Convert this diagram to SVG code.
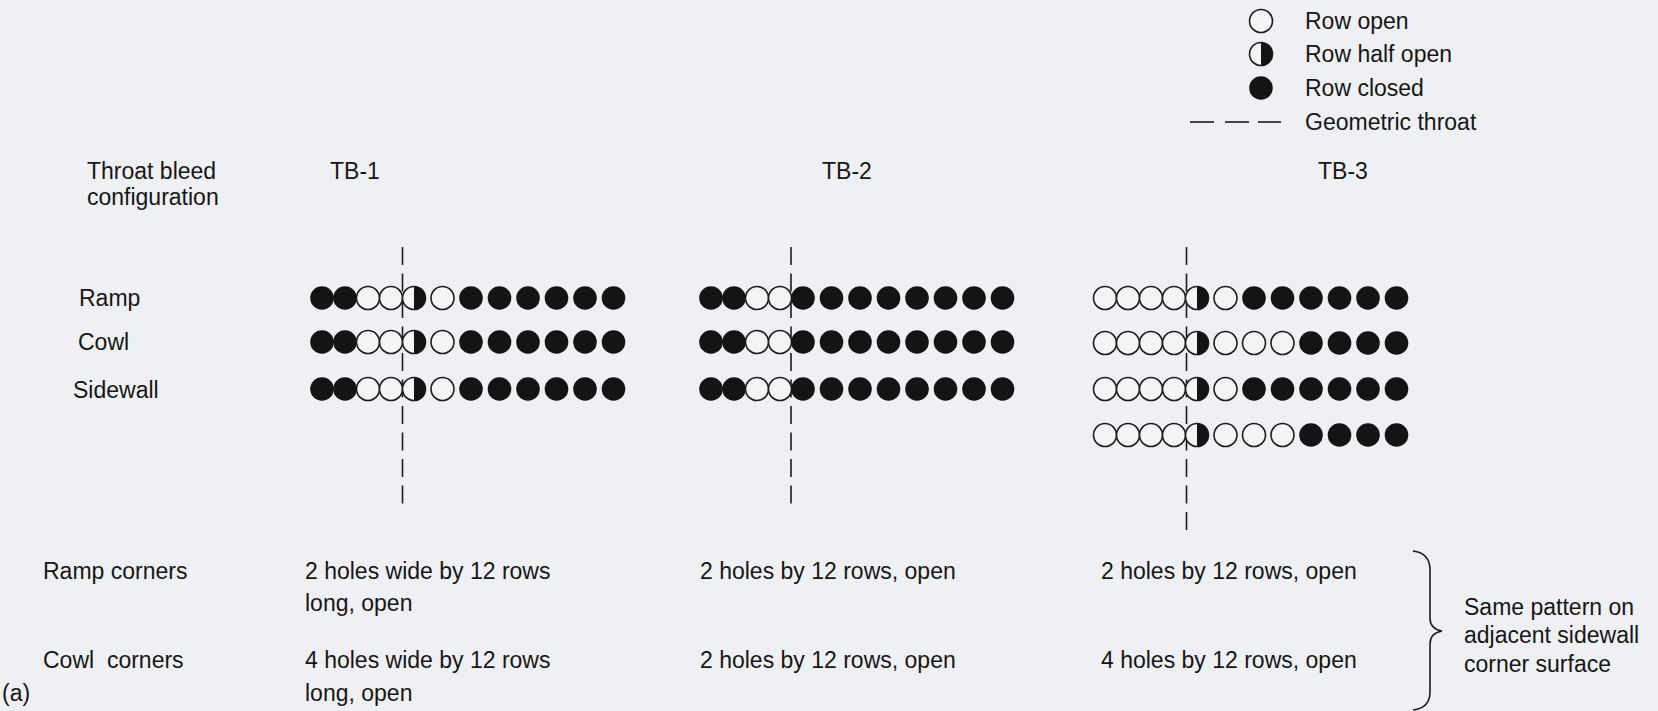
<svg xmlns="http://www.w3.org/2000/svg" xmlns:xlink="http://www.w3.org/1999/xlink" width="1658" height="711" viewBox="0 0 1658 711">
<style>
text { font-family: "Liberation Sans", Arial, Helvetica, sans-serif; font-size: 23px; fill: #161616; }
.o { fill: #f3f4f6; stroke: #1c1c1c; stroke-width: 1.6; }
.c { fill: #141414; }
.throat { stroke: #1c1c1c; stroke-width: 1.6; stroke-dasharray: 18 8.5; fill: none; }
.ln { stroke: #1c1c1c; stroke-width: 1.6; fill: none; }
</style>
<defs>
<circle id="O" r="11.5" class="o"/>
<g id="H"><circle r="11.5" class="o"/><path d="M0,-11.5 A11.5,11.5 0 0 1 0,11.5 Z" class="c"/></g>
<circle id="C" r="11.8" class="c"/>
</defs>
<rect width="1658" height="711" fill="#eff0f3"/>

<g id="legend">
<use href="#O" x="1261" y="21"/>
<use href="#H" x="1261" y="54"/>
<use href="#C" x="1261" y="88"/>
<line class="ln" x1="1190" y1="122" x2="1214" y2="122"/>
<line class="ln" x1="1225" y1="122" x2="1249" y2="122"/>
<line class="ln" x1="1258" y1="122" x2="1281" y2="122"/>
<text x="1305" y="29">Row open</text>
<text x="1305" y="62">Row half open</text>
<text x="1305" y="96">Row closed</text>
<text x="1305" y="130">Geometric throat</text>
</g>

<g id="row-labels">
<text x="87" y="179">Throat bleed</text>
<text x="87" y="205">configuration</text>
<text x="79" y="306">Ramp</text>
<text x="78" y="350">Cowl</text>
<text x="73" y="398">Sidewall</text>
</g>

<g id="headers">
<text x="330" y="179">TB-1</text>
<text x="822" y="179">TB-2</text>
<text x="1318" y="179">TB-3</text>
</g>

<g id="connectors">
<line class="throat" x1="402.5" y1="247" x2="402.5" y2="505"/>
<line class="throat" x1="791" y1="247" x2="791" y2="505"/>
<line class="throat" x1="1186.5" y1="247" x2="1186.5" y2="530"/>
</g>

<g id="tb1">
<g transform="translate(322,298)">
<use href="#C" x="0"/><use href="#C" x="23"/><use href="#O" x="46"/><use href="#O" x="69"/><use href="#H" x="92"/><use href="#O" x="120.5"/><use href="#C" x="149"/><use href="#C" x="177.5"/><use href="#C" x="206"/><use href="#C" x="234.5"/><use href="#C" x="263"/><use href="#C" x="291.5"/>
</g>
<g transform="translate(322,342)">
<use href="#C" x="0"/><use href="#C" x="23"/><use href="#O" x="46"/><use href="#O" x="69"/><use href="#H" x="92"/><use href="#O" x="120.5"/><use href="#C" x="149"/><use href="#C" x="177.5"/><use href="#C" x="206"/><use href="#C" x="234.5"/><use href="#C" x="263"/><use href="#C" x="291.5"/>
</g>
<g transform="translate(322,389)">
<use href="#C" x="0"/><use href="#C" x="23"/><use href="#O" x="46"/><use href="#O" x="69"/><use href="#H" x="92"/><use href="#O" x="120.5"/><use href="#C" x="149"/><use href="#C" x="177.5"/><use href="#C" x="206"/><use href="#C" x="234.5"/><use href="#C" x="263"/><use href="#C" x="291.5"/>
</g>
</g>

<g id="tb2">
<g transform="translate(711,298)">
<use href="#C" x="0"/><use href="#C" x="23"/><use href="#O" x="46"/><use href="#O" x="69"/><use href="#C" x="92"/><use href="#C" x="120.5"/><use href="#C" x="149"/><use href="#C" x="177.5"/><use href="#C" x="206"/><use href="#C" x="234.5"/><use href="#C" x="263"/><use href="#C" x="291.5"/>
</g>
<g transform="translate(711,342)">
<use href="#C" x="0"/><use href="#C" x="23"/><use href="#O" x="46"/><use href="#O" x="69"/><use href="#C" x="92"/><use href="#C" x="120.5"/><use href="#C" x="149"/><use href="#C" x="177.5"/><use href="#C" x="206"/><use href="#C" x="234.5"/><use href="#C" x="263"/><use href="#C" x="291.5"/>
</g>
<g transform="translate(711,389)">
<use href="#C" x="0"/><use href="#C" x="23"/><use href="#O" x="46"/><use href="#O" x="69"/><use href="#C" x="92"/><use href="#C" x="120.5"/><use href="#C" x="149"/><use href="#C" x="177.5"/><use href="#C" x="206"/><use href="#C" x="234.5"/><use href="#C" x="263"/><use href="#C" x="291.5"/>
</g>
</g>

<g id="tb3">
<g transform="translate(1105,298)">
<use href="#O" x="0"/><use href="#O" x="23"/><use href="#O" x="46"/><use href="#O" x="69"/><use href="#H" x="92"/><use href="#O" x="120.5"/><use href="#C" x="149"/><use href="#C" x="177.5"/><use href="#C" x="206"/><use href="#C" x="234.5"/><use href="#C" x="263"/><use href="#C" x="291.5"/>
</g>
<g transform="translate(1105,343)">
<use href="#O" x="0"/><use href="#O" x="23"/><use href="#O" x="46"/><use href="#O" x="69"/><use href="#H" x="92"/><use href="#O" x="120.5"/><use href="#O" x="149"/><use href="#O" x="177.5"/><use href="#C" x="206"/><use href="#C" x="234.5"/><use href="#C" x="263"/><use href="#C" x="291.5"/>
</g>
<g transform="translate(1105,389)">
<use href="#O" x="0"/><use href="#O" x="23"/><use href="#O" x="46"/><use href="#O" x="69"/><use href="#H" x="92"/><use href="#O" x="120.5"/><use href="#C" x="149"/><use href="#C" x="177.5"/><use href="#C" x="206"/><use href="#C" x="234.5"/><use href="#C" x="263"/><use href="#C" x="291.5"/>
</g>
<g transform="translate(1105,435)">
<use href="#O" x="0"/><use href="#O" x="23"/><use href="#O" x="46"/><use href="#O" x="69"/><use href="#H" x="92"/><use href="#O" x="120.5"/><use href="#O" x="149"/><use href="#O" x="177.5"/><use href="#C" x="206"/><use href="#C" x="234.5"/><use href="#C" x="263"/><use href="#C" x="291.5"/>
</g>
</g>

<g id="corners">
<text x="43" y="579">Ramp corners</text>
<text x="43" y="668" xml:space="preserve">Cowl  corners</text>
<text x="2" y="701">(a)</text>
<text x="305" y="579">2 holes wide by 12 rows</text>
<text x="305" y="611">long, open</text>
<text x="305" y="668">4 holes wide by 12 rows</text>
<text x="305" y="701">long, open</text>
<text x="700" y="579">2 holes by 12 rows, open</text>
<text x="700" y="668">2 holes by 12 rows, open</text>
<text x="1101" y="579">2 holes by 12 rows, open</text>
<text x="1101" y="668">4 holes by 12 rows, open</text>
</g>

<g id="note">
<path class="ln" d="M1413,551 Q1430,553 1430,570 L1430,618 Q1430,629 1442,631 Q1430,633 1430,644 L1430,692 Q1430,708 1413,710"/>
<text x="1464" y="615">Same pattern on</text>
<text x="1464" y="643">adjacent sidewall</text>
<text x="1464" y="672">corner surface</text>
</g>
</svg>
